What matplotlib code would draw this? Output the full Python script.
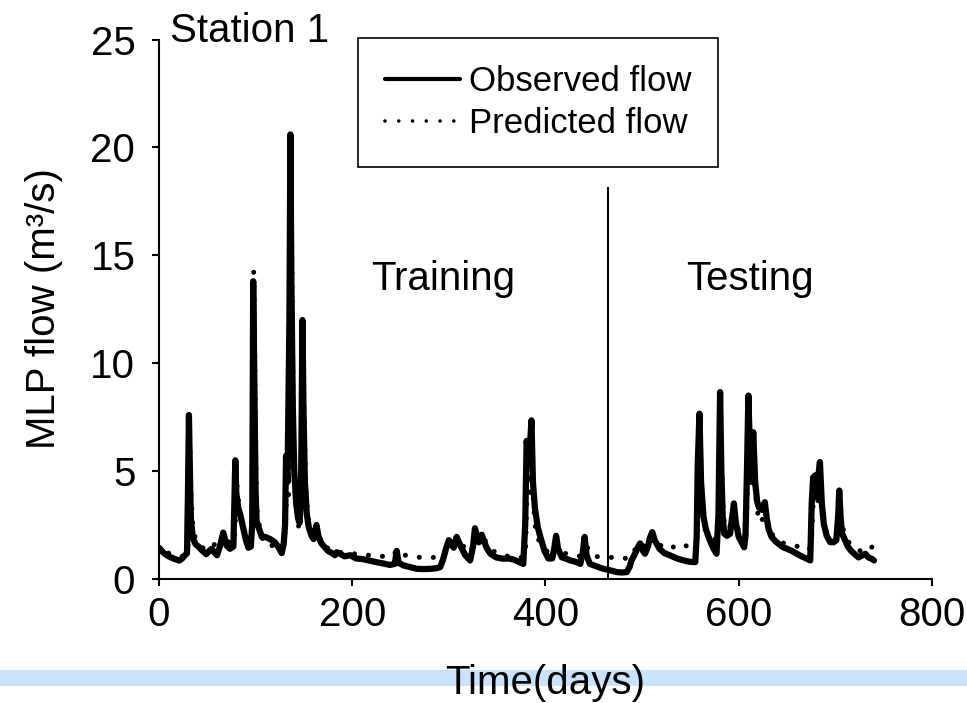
import matplotlib
matplotlib.use("Agg")
import matplotlib.pyplot as plt
from matplotlib.lines import Line2D
from matplotlib.patches import Rectangle

plt.rcParams['font.family'] = ['Liberation Sans', 'DejaVu Sans']

# ---------------- data ----------------
obs_days = [0, 5, 10, 15, 21, 24, 27, 29, 30, 31, 32, 33, 35, 38, 41, 44, 49, 52, 54.5, 57,
            60, 63, 66.5, 68, 70, 73.5, 77, 78, 79, 80, 82, 84, 87, 90, 92.5, 95, 96.5, 97.5,
            98.5, 100, 101, 103, 106.5, 110, 115, 120, 124, 127, 129, 130.5, 131.5, 133, 135,
            136, 137, 138.5, 140, 142, 144, 145.5, 147, 148.5, 149.5, 151, 153, 155, 158, 160,
            163, 165, 168, 172, 175, 179, 182, 184, 186, 192, 198, 204, 211, 218, 225, 232,
            239, 244, 246, 248, 253, 260, 267, 274, 281, 287, 291, 294, 297, 300, 302, 305,
            308, 310, 313, 317, 322, 325, 327, 329, 331, 334, 336, 339, 343, 349, 356, 362,
            367, 372, 377, 379, 380.5, 383, 385.5, 387, 389, 392, 395, 399, 403, 407, 409,
            411, 413, 417, 421, 425.5, 431, 436, 438.5, 440.5, 442.5, 446, 453, 460, 467,
            474, 479, 484, 487, 489, 493, 496, 498, 501, 503, 506, 508, 510.5, 513, 518, 523,
            529, 536, 543, 549, 555, 556.5, 557.5, 559.3, 561, 563.5, 566, 570, 574, 577,
            579, 580.7, 582, 583.5, 585, 588, 591, 593, 595, 597, 600, 603, 605.6, 607,
            608.5, 610, 611.5, 613, 615, 617, 619, 621, 624, 627, 629, 631, 634, 638, 642,
            646, 650, 655, 660, 665, 670, 674, 675.5, 677, 679, 680.5, 682, 684, 686, 688,
            691, 694.6, 698, 701, 703, 704, 705.5, 707, 710, 713, 716, 720, 724, 728, 731,
            734, 737, 740]
obs_flow = [1.45, 1.2, 1.05, 0.95, 0.85, 0.95, 1.1, 1.2, 4.0, 7.6, 5.0, 2.8, 1.9, 1.6, 1.5,
            1.35, 1.15, 1.3, 1.4, 1.25, 1.1, 1.5, 2.15, 1.9, 1.55, 1.4, 1.5, 3.5, 5.5, 4.0,
            3.3, 3.0, 2.4, 1.8, 1.45, 1.5, 2.5, 13.8, 10.0, 4.0, 2.7, 2.4, 1.95, 1.95, 1.85,
            1.7, 1.45, 1.2, 1.6, 2.5, 5.7, 4.5, 12.0, 20.6, 14.0, 8.0, 5.0, 3.5, 2.8, 2.6,
            4.0, 12.0, 8.0, 4.5, 3.0, 2.4, 2.0, 1.85, 2.5, 2.0, 1.65, 1.45, 1.3, 1.2, 1.1,
            1.24, 1.2, 1.05, 1.1, 0.95, 0.92, 0.85, 0.78, 0.72, 0.65, 0.7, 1.3, 0.75, 0.63,
            0.55, 0.47, 0.46, 0.47, 0.5, 0.55, 0.9, 1.4, 1.8, 1.65, 1.45, 1.95, 1.75, 1.45,
            1.1, 0.86, 1.5, 2.35, 2.0, 1.7, 2.05, 1.8, 1.45, 1.17, 1.0, 0.94, 0.95, 0.9, 0.8,
            0.7, 2.5, 6.4, 5.5, 7.35, 4.5, 3.3, 2.4, 1.9, 1.3, 0.95, 0.95, 1.4, 2.0, 1.4,
            1.0, 0.95, 0.86, 0.8, 0.7, 1.2, 1.95, 1.1, 0.7, 0.58, 0.47, 0.4, 0.32, 0.3,
            0.32, 0.55, 0.86, 1.2, 1.5, 1.65, 1.3, 1.17, 1.5, 1.9, 2.17, 1.8, 1.4, 1.2,
            1.09, 0.95, 0.86, 0.8, 0.78, 2.0, 5.2, 7.66, 4.5, 2.9, 2.3, 1.8, 1.4, 1.17,
            3.0, 8.66, 5.0, 2.8, 2.1, 2.0, 2.1, 2.8, 3.5, 2.6, 1.95, 1.7, 1.47, 2.0,
            5.0, 8.5, 6.0, 4.5, 6.8, 4.5, 3.6, 3.3, 3.2, 3.56, 2.8, 2.3, 1.95, 1.75, 1.6,
            1.47, 1.4, 1.3, 1.17, 1.05, 0.95, 0.86, 3.5, 4.7, 4.8, 3.8, 4.6, 5.42, 3.5, 2.56,
            2.0, 1.71, 1.7, 1.8, 3.0, 4.1, 2.8, 2.1, 1.8, 1.5, 1.32, 1.15, 1.0, 1.1, 1.17,
            1.0, 0.95, 0.86]

pred_days = [10, 15, 20, 25, 28, 30, 31, 32, 33, 35, 37, 40, 44, 48, 52, 56, 60, 63, 66, 68,
             71, 74, 78, 79, 80, 81, 83, 85, 88, 91, 94, 96, 97, 98, 99, 100, 101, 102.5,
             105, 108, 112, 116, 119, 123, 127, 130, 131, 132, 134, 135, 136, 137, 138,
             139.5, 141, 143, 145, 147, 148, 149, 150, 152, 154, 156, 158, 161, 164, 167,
             170, 174, 178, 183, 190, 197, 205, 212, 220, 228, 236, 243, 246, 249, 255, 262,
             270, 278, 286, 292, 296, 299, 302, 305, 308, 311, 314, 318, 322, 326, 328, 330,
             333, 336, 340, 344, 350, 356, 362, 368, 374, 378, 379.5, 381, 382, 384, 386,
             387, 388, 390, 393, 397, 401, 405, 409, 412, 415, 419, 424, 430, 436, 440, 443,
             446, 452, 460, 468, 476, 484, 488, 491, 494, 497, 500, 504, 508, 511, 514, 518,
             522, 527, 531, 535, 539, 543, 547, 551, 555, 557, 558.5, 560.5, 562, 564, 567,
             571, 575, 579, 581, 582.5, 584, 586, 589, 592, 595, 597.5, 600, 603, 606, 608,
             610, 611.5, 613, 615, 617, 619, 622, 625, 628, 630, 633, 637, 642, 647, 652,
             657, 662, 668, 673, 675.5, 677, 679, 681, 683, 685, 686.5, 689, 692, 696, 700,
             703, 705, 707, 710, 714, 718, 722, 726, 730, 733, 736, 739]
pred_flow = [1.2, 1.15, 1.1, 1.05, 1.2, 1.3, 3.5, 6.0, 4.0, 2.4, 2.0, 1.7, 1.5, 1.35, 1.4,
             1.5, 1.8, 1.7, 2.0, 2.1, 1.8, 1.6, 1.8, 2.5, 4.8, 4.2, 3.3, 2.6, 2.2, 1.7, 1.6,
             1.8, 6.0, 14.3, 11.0, 6.0, 3.5, 2.7, 2.3, 1.75, 1.8, 1.6, 1.45, 1.35, 1.35, 1.8,
             2.5, 4.0, 3.6, 6.0, 15.0, 17.5, 12.0, 6.0, 4.0, 3.0, 2.25, 3.0, 6.5, 11.5, 8.0,
             4.2, 3.0, 2.4, 2.2, 1.9, 2.1, 1.8, 1.6, 1.45, 1.35, 1.3, 1.2, 1.2, 1.15, 1.1,
             1.1, 1.05, 1.05, 1.1, 1.35, 1.2, 1.1, 1.05, 1.0, 1.0, 1.0, 1.05, 1.15, 1.5, 1.6,
             1.5, 1.6, 1.75, 1.6, 1.3, 1.2, 1.6, 2.0, 2.0, 1.8, 1.9, 1.6, 1.35, 1.2, 1.1,
             1.05, 1.05, 1.0, 1.0, 1.5, 4.5, 6.0, 4.0, 5.5, 4.0, 3.2, 2.2, 1.8, 1.5, 1.3,
             1.2, 1.3, 1.6, 1.45, 1.2, 1.15, 1.1, 1.05, 1.3, 1.5, 1.2, 1.05, 1.0, 1.0, 1.0,
             0.95, 1.0, 1.2, 1.5, 1.7, 1.6, 1.4, 1.6, 1.9, 1.8, 1.6, 1.45, 1.4, 1.5, 1.45,
             1.5, 1.6, 1.5, 1.3, 1.2, 2.2, 4.5, 6.0, 3.5, 2.5, 2.2, 2.0, 1.8, 2.5, 6.5, 5.0,
             3.0, 2.4, 2.3, 2.5, 3.0, 2.7, 2.2, 2.0, 1.9, 2.5, 6.0, 6.5, 4.6, 5.5, 4.2, 3.2,
             2.6, 2.8, 3.0, 2.6, 2.2, 1.9, 1.75, 1.65, 1.6, 1.55, 1.5, 1.4, 1.35, 2.0, 3.5,
             4.0, 3.5, 3.8, 4.2, 3.0, 2.4, 2.0, 1.85, 1.8, 2.0, 3.0, 2.5, 2.0, 1.7, 1.5,
             1.4, 1.3, 1.5, 1.5, 1.45, 1.5]

series_labels = ['Observed flow', 'Predicted flow']
x_ticks = [0, 200, 400, 600, 800]
y_ticks = [0, 5, 10, 15, 20, 25]
split_day = 465
split_top = 18.1

# ---------------- figure ----------------
fig = plt.figure(figsize=(9.67, 7.03), dpi=100)
fig.patches.append(Rectangle((0, 0.0242), 1, 0.0228, transform=fig.transFigure,
                             facecolor='#c8e3fb', edgecolor='none', zorder=0))
ax = fig.add_axes([0.1644, 0.1764, 0.7994, 0.7674])
ax.patch.set_alpha(0)

ax.plot(obs_days, obs_flow, color='black', lw=4.5, solid_joinstyle='round',
        solid_capstyle='round', zorder=3)
ax.plot(pred_days, pred_flow, color='black', lw=3.6, linestyle=(0, (0.01, 2.8)),
        dash_capstyle='round', zorder=4)
ax.plot([split_day, split_day], [0, split_top], color='black', lw=1.5, zorder=2)

ax.set_xlim(0, 800)
ax.set_ylim(0, 25)
ax.set_xticks(x_ticks)
ax.set_yticks(y_ticks)
for s in ['top', 'right']:
    ax.spines[s].set_visible(False)
for s in ['left', 'bottom']:
    ax.spines[s].set_linewidth(1.5)
ax.tick_params(axis='both', direction='out', length=5, width=1.5, labelsize=29)
ax.tick_params(axis='y', pad=12)
ax.tick_params(axis='x', pad=7)

ax.text(11.4, 24.88, 'Station 1', fontsize=29, ha='left', va='baseline', clip_on=False)
ax.text(294, 13.38, 'Training', fontsize=29, ha='center', va='baseline')
ax.text(612, 13.38, 'Testing', fontsize=29, ha='center', va='baseline')

fig.text(0.5636, 0.0284, 'Time(days)', fontsize=29, ha='center', va='center', zorder=5)
fig.text(0.046, 0.5605, 'MLP flow (m³/s)', fontsize=29, rotation=90,
         ha='center', va='center')

handles = [Line2D([], [], color='black', lw=3, solid_capstyle='round'),
           Line2D([], [], color='black', lw=2.6, linestyle=(0, (0.01, 3.8)),
                  dash_capstyle='round')]
leg = ax.legend(handles, series_labels, loc='upper left',
                bbox_to_anchor=(358 / 967, 1 - 38 / 703), bbox_transform=fig.transFigure,
                fontsize=25, frameon=True, fancybox=False, edgecolor='black',
                framealpha=1, borderpad=0.78, labelspacing=0.25, handlelength=2.16,
                handletextpad=0.25, borderaxespad=0)
leg.get_frame().set_linewidth(1.2)

fig.savefig('out.png', dpi=100)
